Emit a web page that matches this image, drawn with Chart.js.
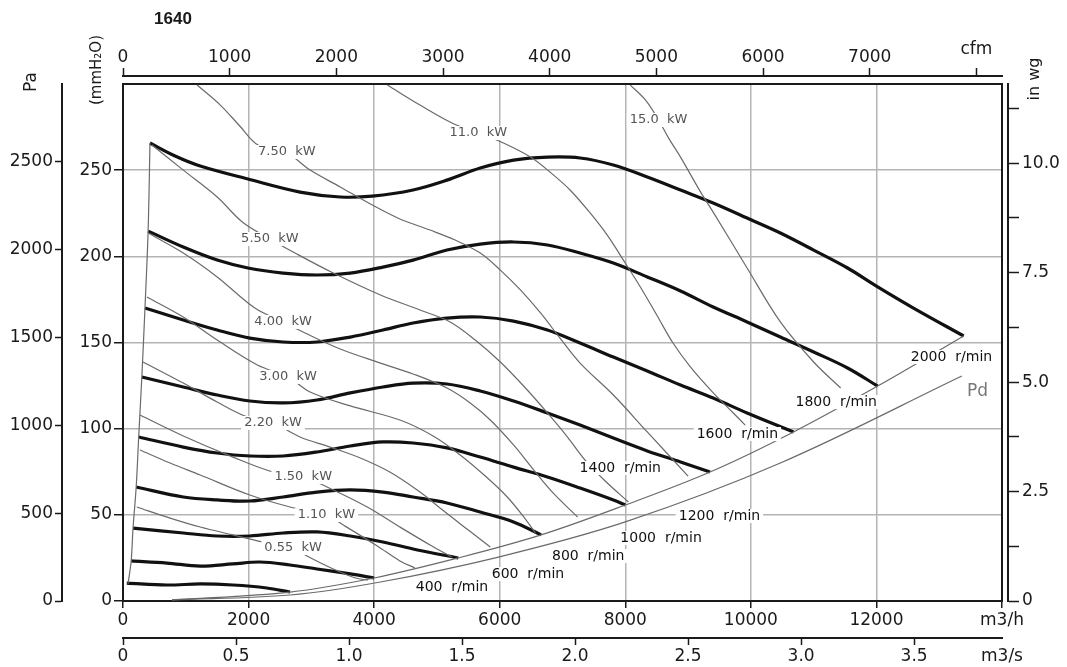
<!DOCTYPE html>
<html>
<head>
<meta charset="utf-8">
<script src="https://cdn.jsdelivr.net/npm/chart.js@4.4.1/dist/chart.umd.min.js"></script>
<style>
  html, body { margin: 0; padding: 0; background: #fff; }
</style>
</head>
<body>
<canvas id="fanChart" width="1067" height="667"></canvas>
<script>
// units: flow in m3/h, pressure in Pa
const FLOW_MAX = 14000;
const MM_MAX = 300;
const PA_PER_MM = 9.80665;
const M3H_PER_CFM = 1.699;
const MM_PER_INWG = 25.4;

const flowTicks = [0, 2000, 4000, 6000, 8000, 10000, 12000, 14000];
const m3sTicks = [0, 0.5, 1, 1.5, 2, 2.5, 3, 3.5, FLOW_MAX / 3600];
const cfmTicks = [0, 1000, 2000, 3000, 4000, 5000, 6000, 7000, 8000];
const mmTicks = [0, 50, 100, 150, 200, 250];
const paTicks = [0, 500, 1000, 1500, 2000, 2500];
const wgTicks = [0, 1.25, 2.5, 3.75, 5, 6.25, 7.5, 8.75, 10, 11.25];

// fan speed curves [flow, pressure]
const speedNames = ['400', '600', '800', '1000', '1200', '1400', '1600', '1800', '2000'];
const rpm400 = [[60, 102], [700, 91], [1230, 97], [1750, 91], [2290, 74], [2660, 51]];
const rpm600 = [[130, 228], [700, 216], [1230, 199], [1750, 211], [2180, 222], [2660, 205], [3090, 182], [3620, 154], [4000, 131]];
const rpm800 = [[160, 415], [960, 387], [1500, 370], [2020, 370], [2550, 387], [3090, 393], [3620, 370], [4140, 336], [4690, 290], [5340, 245]];
const rpm1000 = [[210, 649], [960, 592], [1500, 575], [2020, 569], [2550, 592], [3090, 620], [3620, 632], [4140, 620], [4620, 592], [5160, 558], [5690, 506], [6220, 450], [6660, 376]];
const rpm1200 = [[250, 933], [960, 876], [1500, 842], [2020, 825], [2550, 825], [3090, 848], [3620, 882], [4140, 905], [4620, 899], [5160, 871], [5690, 819], [6220, 762], [6760, 706], [7280, 643], [7810, 575], [8000, 546]];
const rpm1400 = [[300, 1275], [960, 1218], [1500, 1172], [2020, 1138], [2550, 1127], [3090, 1144], [3620, 1184], [4140, 1218], [4620, 1240], [5160, 1235], [5690, 1195], [6220, 1138], [6760, 1070], [7280, 1001], [7810, 927], [8350, 854], [8880, 791], [9350, 734]];
const rpm1600 = [[350, 1667], [960, 1599], [1500, 1542], [2020, 1496], [2550, 1474], [3090, 1474], [3620, 1502], [4140, 1542], [4620, 1582], [5160, 1610], [5690, 1616], [6220, 1593], [6760, 1542], [7280, 1468], [7810, 1388], [8350, 1309], [8880, 1229], [9400, 1155], [9940, 1070], [10680, 962]];
const rpm1800 = [[400, 2105], [960, 2014], [1500, 1940], [1990, 1895], [2550, 1866], [3090, 1855], [3620, 1866], [4140, 1900], [4620, 1940], [5160, 1997], [5690, 2031], [6220, 2043], [6760, 2026], [7280, 1980], [7810, 1923], [8350, 1844], [8880, 1764], [9400, 1673], [9940, 1588], [10470, 1502], [11000, 1417], [11540, 1326], [12020, 1223]];
const rpm2000 = [[430, 2606], [830, 2532], [1230, 2475], [1990, 2401], [2820, 2327], [3460, 2299], [3970, 2304], [4620, 2339], [5160, 2395], [5690, 2464], [6220, 2509], [6760, 2526], [7280, 2521], [7810, 2481], [8350, 2413], [8880, 2339], [9400, 2265], [10010, 2168], [10470, 2094], [11000, 1997], [11540, 1895], [12000, 1792], [12590, 1667], [13390, 1508]];
const speedCurves = [rpm400, rpm600, rpm800, rpm1000, rpm1200, rpm1400, rpm1600, rpm1800, rpm2000];

// operating limits and dynamic pressure
const leftLimit = [[80, 97], [130, 228], [160, 415], [210, 649], [250, 933], [300, 1275], [350, 1667], [400, 2105], [430, 2606]];
const rightLimit = [[780, 6], [2660, 51], [4000, 131], [5340, 245], [6660, 376], [8000, 546], [9350, 734], [10680, 962], [12020, 1223], [13390, 1508]];
const dynPressure = [[780, 6], [2660, 34], [4100, 108], [5980, 250], [8000, 450], [10470, 785], [13360, 1280]];

// absorbed power curves
const kwNames = ['0.55', '1.10', '1.50', '2.20', '3.00', '4.00', '5.50', '7.50', '11.0', '15.0'];
const kw055 = [[220, 535], [750, 472], [1230, 421], [1750, 376], [2220, 336], [2710, 302], [2930, 256], [3350, 182], [3700, 131], [3900, 119]];
const kw110 = [[270, 859], [750, 785], [1230, 717], [2020, 603], [2660, 535], [3240, 489], [3510, 432], [4050, 313], [4410, 228], [4650, 188]];
const kw150 = [[270, 1058], [960, 939], [1750, 819], [2390, 734], [2870, 706], [3250, 649], [3890, 535], [4410, 421], [4890, 319], [5240, 250]];
const kw220 = [[320, 1360], [960, 1240], [1500, 1132], [1940, 1053], [2390, 1013], [2820, 933], [3300, 876], [3780, 814], [4250, 734], [4730, 620], [5130, 506], [5500, 404], [5850, 307]];
const kw300 = [[380, 1730], [960, 1616], [1500, 1485], [2140, 1343], [2630, 1275], [2980, 1189], [3620, 1110], [4410, 1030], [4940, 939], [5370, 831], [5770, 711], [6120, 592], [6370, 484], [6570, 387]];
const kw400 = [[400, 2094], [960, 1980], [1500, 1844], [2100, 1667], [2550, 1588], [2900, 1525], [3460, 1434], [4100, 1354], [4620, 1292], [5160, 1212], [5530, 1127], [5850, 1030], [6220, 888], [6530, 751], [6850, 615], [7240, 478]];
const kw550 = [[460, 2595], [960, 2452], [1500, 2299], [1900, 2157], [2340, 2060], [2740, 1980], [3350, 1866], [4100, 1741], [4730, 1656], [5210, 1588], [5610, 1485], [6010, 1360], [6410, 1212], [6760, 1070], [7080, 933], [7360, 802], [7680, 683], [8050, 563]];
const kw750 = [[1180, 2936], [1550, 2822], [1860, 2703], [2150, 2595], [2610, 2549], [2980, 2452], [3460, 2356], [3940, 2259], [4410, 2174], [4890, 2111], [5290, 2054], [5690, 1980], [6010, 1883], [6330, 1770], [6650, 1639], [6960, 1496], [7280, 1354], [7810, 1172], [8350, 962], [9000, 711]];
const kw1100 = [[4210, 2936], [4730, 2822], [5240, 2720], [5660, 2663], [6060, 2606], [6490, 2526], [6800, 2441], [7120, 2339], [7440, 2208], [7710, 2083], [7970, 1940], [8240, 1787], [8510, 1622], [8760, 1468], [9040, 1331], [9390, 1189], [9720, 1070], [9910, 1001]];
const kw1500 = [[8080, 2936], [8320, 2851], [8530, 2737], [8690, 2634], [8880, 2526], [9200, 2327], [9400, 2213], [9940, 1895], [10470, 1588], [11000, 1360], [11430, 1212]];
const kwLines = [kw055, kw110, kw150, kw220, kw300, kw400, kw550, kw750, kw1100, kw1500];

// where the curve names sit [flow, pressure]
const kwLabelAt = [[2710, 302], [3240, 489], [2870, 706], [2390, 1013], [2630, 1275], [2550, 1588], [2340, 2060], [2610, 2555], [5660, 2663], [8530, 2737]];
const speedLabelAt = [[5240, 80], [6450, 154], [7410, 256], [8570, 358], [9500, 484], [7920, 757], [9785, 950], [11360, 1132], [13195, 1388]];
const pdLabelAt = [13609, 1189];

const INK = '#1a1a1a';
const GRID = '#b4b4b4';
const THIN = '#6a6a6a';
const TICK_FONT = { family: 'DejaVu Sans', size: 17 };

const toPts = arr => arr.map(([q, p]) => ({ x: q, y: p }));
const fixTicks = values => scale => { scale.ticks = values.map(v => ({ value: v })); };
const fixWidth = w => scale => { scale.width = w; };
const fixHeight = h => scale => { scale.height = h; };

const notes = [];
kwNames.forEach((n, i) => notes.push({ text: n + '  kW', at: kwLabelAt[i], color: '#555', font: '13px "DejaVu Sans"', box: true }));
speedNames.forEach((n, i) => notes.push({ text: n + '  r/min', at: speedLabelAt[i], color: '#111', font: '14px "DejaVu Sans"', box: true }));
notes.push({ text: 'Pd', at: pdLabelAt, color: '#777', font: '17px "DejaVu Sans"', box: false });

const datasets = [];
kwLines.forEach(line => datasets.push({ data: toPts(line), borderColor: THIN, borderWidth: 1.2 }));
[leftLimit, rightLimit, dynPressure].forEach(line => datasets.push({ data: toPts(line), borderColor: THIN, borderWidth: 1.2 }));
speedCurves.forEach(c => datasets.push({ data: toPts(c), borderColor: '#111', borderWidth: 3.2 }));
datasets.forEach(d => Object.assign(d, {
    showLine: true, pointRadius: 0, fill: false,
    tension: 0.35, xAxisID: 'x', yAxisID: 'ya'
}));

function rotText(ctx, text, x, y) {
    ctx.save();
    ctx.translate(x, y);
    ctx.rotate(-Math.PI / 2);
    ctx.fillText(text, 0, 0);
    ctx.restore();
}

const fanText = {
    id: 'fanText',
    afterDatasetsDraw(chart) {
        const { ctx, scales } = chart;
        ctx.save();
        ctx.textAlign = 'center';
        ctx.textBaseline = 'middle';
        notes.forEach(n => {
            const px = scales.x.getPixelForValue(n.at[0]);
            const py = scales.ya.getPixelForValue(n.at[1]);
            ctx.font = n.font;
            const w = ctx.measureText(n.text).width;
            if (n.box) {
                ctx.fillStyle = '#fff';
                ctx.fillRect(px - w / 2 - 3, py - 7, w + 6, 14);
            }
            ctx.fillStyle = n.color;
            ctx.fillText(n.text, px, py);
        });
        ctx.restore();
    },
    afterDraw(chart) {
        const { ctx, chartArea, scales } = chart;
        ctx.save();
        ctx.fillStyle = INK;
        ctx.textAlign = 'center';
        ctx.textBaseline = 'middle';
        ctx.font = 'bold 17px "Liberation Sans"';
        ctx.fillText('1640', chartArea.left + 50, 19);
        ctx.font = '17px "DejaVu Sans"';
        ctx.fillText('cfm', scales.xc.getPixelForValue(8000), scales.xc.bottom - 26);
        rotText(ctx, 'Pa', scales.ya.left + 32, chartArea.top - 2);
        ctx.font = '15px "DejaVu Sans"';
        rotText(ctx, '(mmH\u2082O)', scales.y.left + 35, chartArea.top - 14);
        ctx.font = '16px "DejaVu Sans"';
        rotText(ctx, 'in wg', scales.yw.left + 27, chartArea.top - 5);
        ctx.restore();
    }
};

const tickStyle = extra => Object.assign({ color: INK, font: TICK_FONT, autoSkip: false, maxRotation: 0 }, extra);

new Chart(document.getElementById('fanChart'), {
    type: 'scatter',
    data: { datasets },
    options: {
        responsive: false,
        animation: false,
        devicePixelRatio: 1,
        layout: { padding: 0 },
        plugins: { legend: { display: false }, tooltip: { enabled: false } },
        scales: {
            x: {
                type: 'linear', position: 'bottom', weight: 0, min: 0, max: FLOW_MAX,
                afterBuildTicks: fixTicks(flowTicks), afterFit: fixHeight(37),
                grid: { color: GRID, lineWidth: 1.5, tickColor: INK, tickLength: 7, tickWidth: 1.5 },
                border: { color: INK, width: 2 },
                ticks: tickStyle({ padding: 2, callback: v => v === FLOW_MAX ? 'm3/h' : String(v) })
            },
            xs: {
                type: 'linear', position: 'bottom', weight: 1, min: 0, max: FLOW_MAX / 3600,
                afterBuildTicks: fixTicks(m3sTicks), afterFit: fixHeight(29),
                grid: { drawOnChartArea: false, tickLength: 7, tickWidth: 1.5,
                        tickColor: c => c.tick && c.tick.value > 3.6 ? 'rgba(0,0,0,0)' : INK },
                border: { color: INK, width: 2 },
                ticks: tickStyle({ padding: 1, callback: v => v > 3.6 ? 'm3/s' : (v === 0 ? '0' : v.toFixed(1)) })
            },
            xt: {
                type: 'linear', position: 'top', weight: 0, min: 0, max: FLOW_MAX,
                afterFit: fixHeight(8),
                grid: { display: false, drawTicks: false },
                border: { color: INK, width: 2 },
                ticks: { display: false }
            },
            xc: {
                type: 'linear', position: 'top', weight: 1, min: 0, max: FLOW_MAX / M3H_PER_CFM,
                afterBuildTicks: fixTicks(cfmTicks), afterFit: fixHeight(76),
                grid: { drawOnChartArea: false, tickColor: INK, tickLength: 8, tickWidth: 1.5 },
                border: { color: INK, width: 2 },
                ticks: tickStyle({ padding: 0, callback: v => v === 8000 ? '' : String(v) })
            },
            y: {
                type: 'linear', position: 'left', weight: 0, min: 0, max: MM_MAX,
                afterBuildTicks: fixTicks(mmTicks), afterFit: fixWidth(61),
                grid: { color: GRID, lineWidth: 1.5, tickColor: INK, tickLength: 9, tickWidth: 1.5 },
                border: { color: INK, width: 2 },
                ticks: tickStyle({ padding: 2, callback: v => String(v) })
            },
            ya: {
                type: 'linear', position: 'left', weight: 1, min: 0, max: MM_MAX * PA_PER_MM,
                afterBuildTicks: fixTicks(paTicks), afterFit: fixWidth(62),
                grid: { drawOnChartArea: false, tickColor: INK, tickLength: 7, tickWidth: 1.5 },
                border: { color: INK, width: 2 },
                ticks: tickStyle({ padding: 2, callback: v => String(v) })
            },
            yr: {
                type: 'linear', position: 'right', weight: 0, min: 0, max: MM_MAX,
                afterFit: fixWidth(6),
                grid: { display: false, drawTicks: false },
                border: { color: INK, width: 2 },
                ticks: { display: false }
            },
            yw: {
                type: 'linear', position: 'right', weight: 1, min: 0, max: MM_MAX / MM_PER_INWG,
                afterBuildTicks: fixTicks(wgTicks), afterFit: fixWidth(59),
                grid: { drawOnChartArea: false, tickColor: INK, tickLength: 11, tickWidth: 1.5 },
                border: { color: INK, width: 2 },
                ticks: tickStyle({ padding: 3, callback: v => v === 0 ? '0' : (v % 2.5 === 0 ? v.toFixed(1) : '') })
            }
        }
    },
    plugins: [fanText]
});
</script>
</body>
</html>
